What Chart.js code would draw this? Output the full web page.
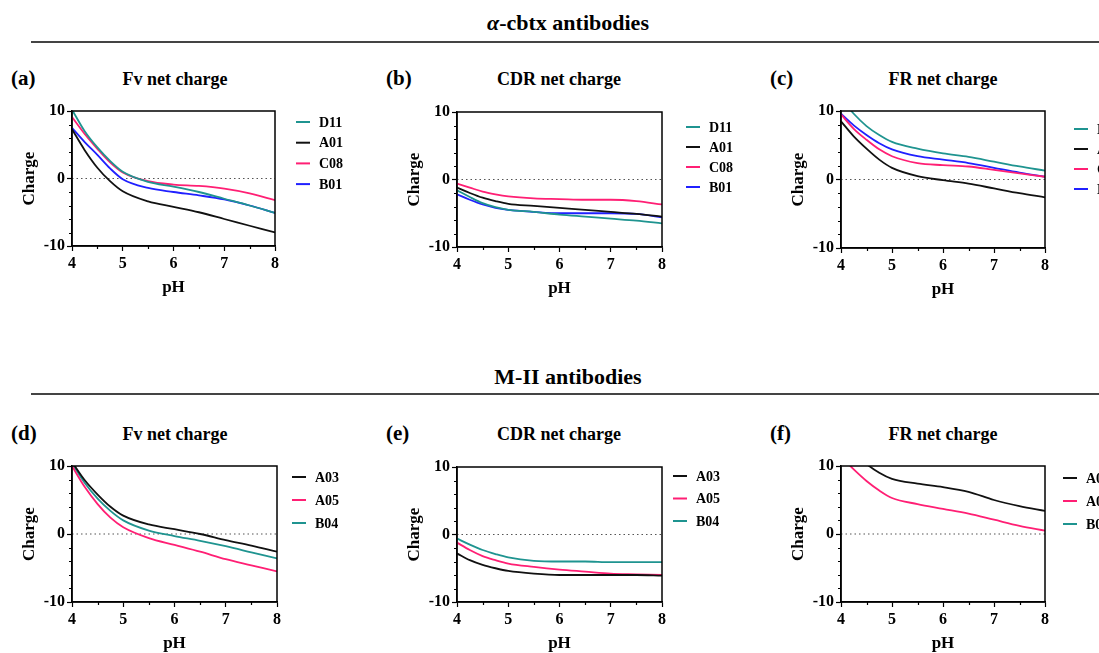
<!DOCTYPE html>
<html>
<head>
<meta charset="utf-8">
<script src="https://cdn.jsdelivr.net/npm/chart.js@4.4.1/dist/chart.umd.min.js"></script>
<style>
  html, body { margin: 0; padding: 0; background: #fff; }
  body { width: 1099px; height: 653px; overflow: hidden; position: relative;
         font-family: "Liberation Serif", "Times New Roman", serif; font-weight: bold; color: #000; }
  .sec { position: absolute; left: 0; width: 1136px; text-align: center; font-size: 22px; transform: translateY(-50%); }
  .rule { position: absolute; left: 31px; width: 1068px; height: 2px; background: #444; }
  .lbl { position: absolute; font-size: 21px; transform: translateY(-50%); }
  .ttl { position: absolute; font-size: 18px; transform: translate(-50%, -50%); white-space: nowrap; }
  canvas { position: absolute; }
</style>
</head>
<body>
<div class="sec" style="top:23px"><i>α</i>-cbtx antibodies</div>
<div class="rule" style="top:41px"></div>
<div class="sec" style="top:377px">M-II antibodies</div>
<div class="rule" style="top:393px"></div>

<div class="lbl" style="left:11px;top:78px">(a)</div>
<div class="lbl" style="left:386px;top:78px">(b)</div>
<div class="lbl" style="left:770px;top:78px">(c)</div>
<div class="lbl" style="left:11px;top:433px">(d)</div>
<div class="lbl" style="left:386px;top:433px">(e)</div>
<div class="lbl" style="left:770px;top:433px">(f)</div>

<div class="ttl" style="left:175px;top:79px">Fv net charge</div>
<div class="ttl" style="left:559px;top:79px">CDR net charge</div>
<div class="ttl" style="left:943px;top:79px">FR net charge</div>
<div class="ttl" style="left:175px;top:434px">Fv net charge</div>
<div class="ttl" style="left:559px;top:434px">CDR net charge</div>
<div class="ttl" style="left:943px;top:434px">FR net charge</div>

<canvas id="ca"></canvas>
<canvas id="cb"></canvas>
<canvas id="cc"></canvas>
<canvas id="cd"></canvas>
<canvas id="ce"></canvas>
<canvas id="cf"></canvas>

<script>
// pH points used for every curve
const phValues = [4, 4.25, 4.5, 4.75, 5, 5.5, 6, 6.5, 7, 7.5, 8];

// alpha-cbtx antibodies
const cbtxLabels = ["D11", "A01", "C08", "B01"];
const fvD11 = [10.2, 7.0, 4.6, 2.6, 1.0, -0.5, -1.2, -2.0, -3.0, -4.0, -5.1];
const fvA01 = [7.3, 4.2, 1.6, -0.4, -1.9, -3.4, -4.2, -5.0, -6.0, -7.0, -8.0];
const fvC08 = [9.1, 6.6, 4.4, 2.4, 0.9, -0.4, -0.9, -1.1, -1.5, -2.2, -3.2];
const fvB01 = [7.5, 5.4, 3.5, 1.5, -0.1, -1.4, -2.0, -2.5, -3.1, -4.0, -5.1];

const cdrD11 = [-1.6, -2.6, -3.5, -4.1, -4.5, -4.8, -5.2, -5.5, -5.8, -6.1, -6.5];
const cdrA01 = [-1.2, -2.0, -2.7, -3.2, -3.6, -3.9, -4.2, -4.5, -4.8, -5.1, -5.5];
const cdrC08 = [-0.6, -1.2, -1.8, -2.2, -2.5, -2.8, -2.9, -3.0, -3.0, -3.2, -3.7];
const cdrB01 = [-2.2, -3.0, -3.7, -4.2, -4.5, -4.8, -5.0, -5.0, -5.0, -5.1, -5.6];

const frD11 = [11.8, 9.6, 7.8, 6.5, 5.5, 4.5, 3.8, 3.3, 2.6, 1.9, 1.3];
const frA01 = [8.5, 6.3, 4.5, 2.9, 1.7, 0.5, -0.1, -0.6, -1.3, -2.0, -2.6];
const frC08 = [9.5, 7.4, 5.8, 4.4, 3.4, 2.4, 2.1, 1.9, 1.4, 0.9, 0.4];
const frB01 = [9.6, 7.9, 6.5, 5.3, 4.4, 3.4, 2.9, 2.4, 1.7, 1.0, 0.4];

// M-II antibodies
const m2Labels = ["A03", "A05", "B04"];
const fvA03 = [10.6, 7.9, 5.8, 4.0, 2.7, 1.4, 0.7, 0.0, -0.9, -1.7, -2.6];
const fvA05 = [10.0, 6.9, 4.4, 2.4, 1.0, -0.6, -1.6, -2.6, -3.7, -4.6, -5.5];
const fvB04 = [10.4, 7.5, 5.2, 3.4, 2.0, 0.5, -0.3, -1.0, -1.8, -2.7, -3.6];

const cdrA03 = [-2.8, -3.8, -4.5, -5.0, -5.4, -5.8, -6.0, -6.0, -6.0, -6.0, -6.1];
const cdrA05 = [-1.2, -2.3, -3.2, -3.8, -4.3, -4.8, -5.2, -5.5, -5.8, -5.9, -6.0];
const cdrB04 = [-0.6, -1.5, -2.3, -2.9, -3.4, -3.9, -4.0, -4.0, -4.1, -4.1, -4.1];

const frA03 = [13.5, 12.0, 10.3, 9.0, 8.1, 7.4, 6.9, 6.2, 5.0, 4.1, 3.4];
const frA05 = [11.4, 9.5, 7.8, 6.4, 5.3, 4.4, 3.7, 3.0, 2.1, 1.2, 0.5];
const frB04 = []; // off scale, not visible in the panel

const TEAL = "#1f9490";
const BLACK = "#111111";
const PINK = "#ff1f74";
const BLUE = "#2020ff";
const FONT = "Liberation Serif";

// dotted zero line, minor ticks, closed frame around the plot
const framePlugin = {
  id: "frame",
  beforeDatasetsDraw(chart) {
    const { ctx, chartArea: a, scales } = chart;
    const y0 = scales.y.getPixelForValue(0);
    ctx.save();
    ctx.strokeStyle = "#555";
    ctx.lineWidth = 1.2;
    ctx.setLineDash([1.5, 3]);
    ctx.beginPath();
    ctx.moveTo(a.left, y0);
    ctx.lineTo(a.right, y0);
    ctx.stroke();
    ctx.restore();
  },
  afterDatasetsDraw(chart) {
    const { ctx, chartArea: a, scales } = chart;
    ctx.save();
    ctx.strokeStyle = "#000";
    ctx.lineWidth = 1.2;
    ctx.beginPath();
    for (let v = -8; v <= 8; v += 2) {
      if (v === 0) continue;
      const y = Math.round(scales.y.getPixelForValue(v)) + 0.5;
      ctx.moveTo(a.left - 3, y);
      ctx.lineTo(a.left, y);
    }
    for (let v = 4.5; v < 8; v += 1) {
      const x = Math.round(scales.x.getPixelForValue(v)) + 0.5;
      ctx.moveTo(x, a.bottom);
      ctx.lineTo(x, a.bottom + 3);
    }
    ctx.stroke();
    ctx.lineWidth = 1.5;
    ctx.strokeRect(a.left, a.top, a.right - a.left, a.bottom - a.top);
    ctx.restore();
  }
};

// small line-sample legend at the right of the plot
const legendPlugin = {
  id: "sideLegend",
  afterDraw(chart, args, opts) {
    const { ctx, chartArea: a } = chart;
    ctx.save();
    ctx.font = "bold 14px '" + FONT + "'";
    ctx.textBaseline = "middle";
    chart.data.datasets.forEach((ds, i) => {
      const y = a.top + opts.top + i * opts.gap;
      const x = a.right + opts.left;
      ctx.strokeStyle = ds.borderColor;
      ctx.lineWidth = 2;
      ctx.beginPath();
      ctx.moveTo(x, y);
      ctx.lineTo(x + 14, y);
      ctx.stroke();
      ctx.fillStyle = "#000";
      ctx.fillText(ds.label, x + 23, y + 1);
    });
    ctx.restore();
  }
};

function makePanel(id, area, labels, series, colors, legend) {
  // area = absolute plot area on the page; canvas wraps it
  const axisW = 72, topPad = 51, axisH = 64, rightPad = legend.width;
  const el = document.getElementById(id);
  const left = area.l - axisW, top = area.t - topPad;
  const w = area.r - area.l + axisW + rightPad;
  const h = area.b - area.t + topPad + axisH;
  el.style.left = left + "px";
  el.style.top = top + "px";
  el.width = w; el.height = h;
  el.style.width = w + "px"; el.style.height = h + "px";

  const tickFont = { family: FONT, size: 16, weight: "bold" };
  const titleFont = { family: FONT, size: 17, weight: "bold" };

  return new Chart(el.getContext("2d"), {
    type: "line",
    data: {
      datasets: labels.map((lab, i) => ({
        label: lab,
        data: series[i].map((v, k) => ({ x: phValues[k], y: v })),
        borderColor: colors[i],
        backgroundColor: colors[i],
        borderWidth: 1.8,
        pointRadius: 0,
        cubicInterpolationMode: "monotone",
        clip: 0
      }))
    },
    options: {
      responsive: false,
      animation: false,
      layout: { padding: { top: topPad, right: rightPad, left: 0, bottom: 0 } },
      plugins: {
        legend: { display: false },
        tooltip: { enabled: false },
        sideLegend: legend
      },
      scales: {
        x: {
          type: "linear", min: 4, max: 8,
          afterFit: (s) => { s.height = axisH; },
          ticks: { stepSize: 1, autoSkip: false, maxRotation: 0, padding: 3, color: "#000", font: tickFont },
          grid: { drawOnChartArea: false, tickLength: 5, tickColor: "#000", tickWidth: 1.2 },
          border: { color: "#000", width: 1.5 },
          title: { display: true, text: "pH", color: "#000", font: titleFont, padding: { top: 0, bottom: 12 } }
        },
        y: {
          min: -10, max: 10,
          afterFit: (s) => { s.width = axisW; },
          ticks: { stepSize: 10, autoSkip: false, padding: 2, color: "#000", font: tickFont },
          grid: { drawOnChartArea: false, tickLength: 5, tickColor: "#000", tickWidth: 1.2 },
          border: { color: "#000", width: 1.5 },
          title: { display: true, text: "Charge", color: "#000", font: titleFont, padding: { top: 19, bottom: 0 } }
        }
      }
    },
    plugins: [framePlugin, legendPlugin]
  });
}

const cbtxColors = [TEAL, BLACK, PINK, BLUE];
const m2Colors = [BLACK, PINK, TEAL];

makePanel("ca", { l: 72, t: 111, r: 275, b: 246 }, cbtxLabels, [fvD11, fvA01, fvC08, fvB01], cbtxColors,
  { left: 21, top: 11, gap: 20.7, width: 95 });
makePanel("cb", { l: 457, t: 112, r: 662, b: 247 }, cbtxLabels, [cdrD11, cdrA01, cdrC08, cdrB01], cbtxColors,
  { left: 24, top: 15, gap: 20, width: 95 });
makePanel("cc", { l: 841, t: 111, r: 1045, b: 248 }, cbtxLabels, [frD11, frA01, frC08, frB01], cbtxColors,
  { left: 29, top: 18, gap: 20, width: 110 });
makePanel("cd", { l: 72, t: 466, r: 277, b: 602 }, m2Labels, [fvA03, fvA05, fvB04], m2Colors,
  { left: 15, top: 11, gap: 23, width: 95 });
makePanel("ce", { l: 457, t: 467, r: 662, b: 602 }, m2Labels, [cdrA03, cdrA05, cdrB04], m2Colors,
  { left: 11, top: 9, gap: 22.5, width: 95 });
makePanel("cf", { l: 841, t: 466, r: 1045, b: 602 }, m2Labels, [frA03, frA05, frB04], m2Colors,
  { left: 18, top: 12, gap: 23, width: 110 });
</script>
</body>
</html>
